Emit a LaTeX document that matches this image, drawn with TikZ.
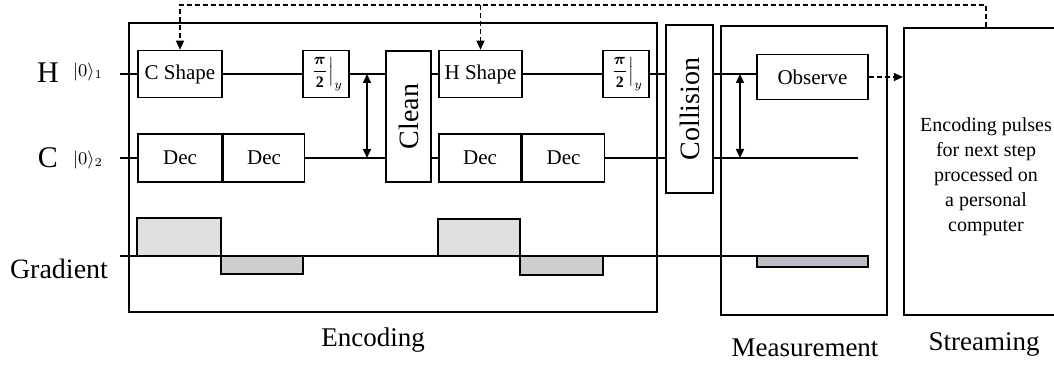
\documentclass[tikz,border=0pt]{standalone}
\usepackage{amsmath,amssymb}
\usepackage{fontspec}
\setmainfont{Liberation Serif}
\usetikzlibrary{arrows.meta,positioning,calc}
\definecolor{pulselight}{RGB}{224,224,224}
\definecolor{pulsedark}{RGB}{206,206,206}
\definecolor{barfill}{RGB}{190,188,198}
\tikzset{
  qbox/.style={draw,line width=0.8pt,inner sep=0pt,
               font=\fontsize{10.5}{12}\selectfont},
  qangle/.style={qbox,font=\fontsize{8}{9}\selectfont},
  qstage/.style={draw,line width=1.1pt,inner sep=0pt},
  qlabel/.style={font=\fontsize{13.5}{16}\selectfont},
  qket/.style={font=\fontsize{9}{10}\selectfont},
  qwire/.style={line width=0.6pt},
  qarrow/.style={{Triangle[length=4.5pt,width=4pt]}-{Triangle[length=4.5pt,width=4pt]},line width=0.8pt},
  qfeed/.style={-{Triangle[length=4.5pt,width=4pt]},line width=0.7pt,
                dash pattern=on 2.5pt off 1.5pt},
  qpulse/.style={draw,line width=0.8pt},
}
\begin{document}
\begin{tikzpicture}[x=0.5pt,y=-0.5pt]
    \path[use as bounding box,clip] (0,0) rectangle (1054,367);
    % stages
    \node[qstage,minimum width=264pt,minimum height=144.5pt] (enc) at (393,167.5) {};
    \node[qbox,minimum width=23.5pt,minimum height=84pt] (col) at (689.5,109)
          {\fontsize{14}{16}\selectfont\rotatebox{90}{Collision}};
    \node[qstage,minimum width=83pt,minimum height=144.5pt] (meas) at (804,170.5) {};
    \node[qstage,minimum width=82pt,minimum height=143.5pt] (stream) at (986,171.5) {};
    \node[align=center,font=\fontsize{10}{12.5}\selectfont] (streamtext) at (986,177)
          {Encoding pulses\\for next step\\processed on\\a personal\\computer};
    % encoding gates
    \node[qbox,minimum width=42pt,minimum height=23.5pt] (cshape) at (180,74) {C Shape};
    \node[qangle,minimum width=23pt,minimum height=23.5pt] (pi1) at (326,74)
          {$\left.\dfrac{\boldsymbol{\pi}}{\mathbf{2}}\right|_{y}$};
    \node[qbox,minimum width=22.5pt,minimum height=65.5pt] (clean) at (408.5,116.5)
          {\fontsize{14}{16}\selectfont\rotatebox{90}{Clean}};
    \node[qbox,minimum width=41.5pt,minimum height=23.5pt] (hshape) at (480.5,74) {H Shape};
    \node[qangle,minimum width=23pt,minimum height=23.5pt] (pi2) at (626,74)
          {$\left.\dfrac{\boldsymbol{\pi}}{\mathbf{2}}\right|_{y}$};
    \node[qbox,minimum width=42pt,minimum height=24pt] (dec1) at (180,158) {Dec};
    \node[qbox,minimum width=40.5pt,minimum height=24pt,right=0pt of dec1] (dec2) {Dec};
    \node[qbox,minimum width=41pt,minimum height=24pt] (dec3) at (480,158) {Dec};
    \node[qbox,minimum width=41pt,minimum height=24pt,right=0pt of dec3] (dec4) {Dec};
    \node[qbox,minimum width=55.5pt,minimum height=22.5pt] (observe) at (812.5,77) {Observe};
    % qubit labels
    \node[font=\fontsize{15}{17}\selectfont] (hlab) at (48,73) {H};
    \node[qket] (hket) at (88,72) {$|0\rangle_{1}$};
    \node[font=\fontsize{15}{17}\selectfont] (clab) at (48,158) {C};
    \node[qket] (cket) at (88,160) {$|0\rangle_{2}$};
    \node[font=\fontsize{14}{16}\selectfont] (glab) at (59,269) {Gradient};
    \coordinate (hin) at (120,74);
    \coordinate (cin) at (120,158);
    \coordinate (cend) at (858,158);
    % wires
    \draw[qwire] (hin) -- (cshape.west);
    \draw[qwire] (cshape.east) -- (pi1.west);
    \draw[qwire] (pi1.east) -- (pi1.east -| clean.west);
    \draw[qwire] (clean.east |- hshape.west) -- (hshape.west);
    \draw[qwire] (hshape.east) -- (pi2.west);
    \draw[qwire] (pi2.east) -- (pi2.east -| col.west);
    \draw[qwire] (col.east |- pi2.east) -- (pi2.east -| observe.west);
    \draw[qwire] (cin) -- (dec1.west);
    \draw[qwire] (dec2.east) -- (dec2.east -| clean.west);
    \draw[qwire] (clean.east |- dec3.west) -- (dec3.west);
    \draw[qwire] (dec4.east) -- (dec4.east -| col.west);
    \draw[qwire] (col.east |- dec4.east) -- (cend);
    % interaction arrows
    \coordinate (ea) at (367,74);
    \coordinate (eb) at (367,158);
    \coordinate (ma) at (740,74);
    \coordinate (mb) at (740,158);
    \draw[qarrow] (ea) -- (eb);
    \draw[qarrow] (ma) -- (mb);
    % feedback from streaming
    \draw[qfeed] (stream.north) -- ++(0,-22) coordinate (fbtop) -| (cshape.north);
    \draw[qfeed] (fbtop -| hshape.north) -- (hshape.north);
    \draw[qfeed] (observe.east) -- (observe.east -| stream.west);
    % gradient pulses
    \node[qpulse,fill=barfill,minimum width=55.5pt,minimum height=5.5pt,inner sep=0pt]
          (mbar) at (812.5,261.5) {};
    \coordinate (gstart) at (120,256);
    \draw[qwire] (gstart) -- (gstart -| mbar.west);
    \draw[qpulse,fill=pulselight] (137,218) rectangle (221,256);
    \draw[qpulse,fill=pulsedark] (221,256) rectangle (303,274);
    \draw[qpulse,fill=pulselight] (438,219) rectangle (520,256);
    \draw[qpulse,fill=pulsedark] (520,256) rectangle (603,275);
    % stage names
    \node[qlabel] (enclab) at (373,340) {Encoding};
    \node[qlabel] (measlab) at (805,348) {Measurement};
    \node[qlabel] (streamlab) at (984,344) {Streaming};
\end{tikzpicture}
\end{document}
